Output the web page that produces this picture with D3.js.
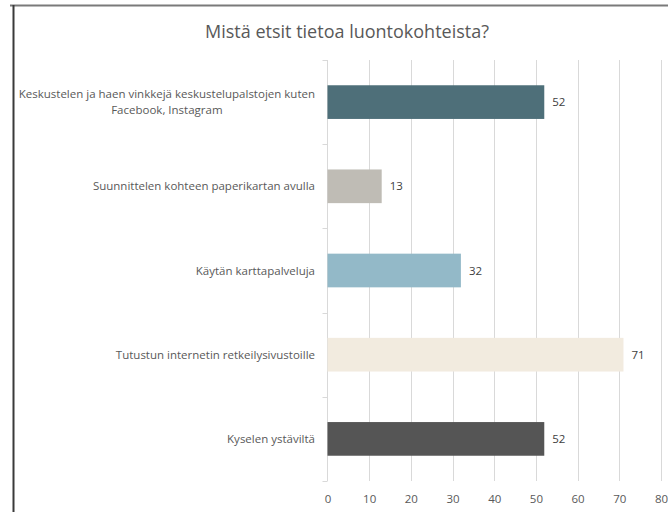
<!DOCTYPE html>
<html>
<head>
<meta charset="utf-8">
<script src="https://cdn.jsdelivr.net/npm/d3@7"></script>
<style>
  html, body { margin: 0; padding: 0; background: #fff; }
  svg { display: block; }
  text { font-family: "Open Sans", "Liberation Sans", sans-serif; }
</style>
</head>
<body>
<svg id="chart" width="668" height="512"></svg>
<script>
const title = "Mistä etsit tietoa luontokohteista?";
const categories = [
  ["Keskustelen ja haen vinkkejä keskustelupalstojen kuten", "Facebook, Instagram"],
  ["Suunnittelen kohteen paperikartan avulla"],
  ["Käytän karttapalveluja"],
  ["Tutustun internetin retkeilysivustoille"],
  ["Kyselen ystäviltä"]
];
const values = [52, 13, 32, 71, 52];
const colors = ["#4e6f79", "#bfbcb5", "#93b9c8", "#f2ebdf", "#555555"];
const xTicks = [0, 10, 20, 30, 40, 50, 60, 70, 80];

const svg = d3.select("#chart");
const W = 668, H = 512;
const plot = { left: 327.5, right: 661, top: 60, bottom: 481 };

// frame
svg.append("line").attr("x1", 10).attr("x2", W).attr("y1", 5.5).attr("y2", 5.5)
  .attr("stroke", "#7a7a7a").attr("stroke-width", 2);
svg.append("line").attr("x1", 13.5).attr("x2", 13.5).attr("y1", 5).attr("y2", H)
  .attr("stroke", "#3a3a3a").attr("stroke-width", 2);

// title
svg.append("text").attr("x", 347).attr("y", 38).attr("text-anchor", "middle")
  .attr("font-size", 18).attr("fill", "#595959").text(title);

const x = d3.scaleLinear().domain([0, 80]).range([plot.left, plot.right]);
const idx = d3.range(categories.length);
const y = d3.scaleBand().domain(idx).range([plot.top, plot.bottom])
  .paddingInner(0.6).paddingOuter(0.3);

// gridlines
svg.append("g").selectAll("line").data(xTicks.filter(d => d > 0)).join("line")
  .attr("x1", d => Math.round(x(d)) + 0.5).attr("x2", d => Math.round(x(d)) + 0.5)
  .attr("y1", plot.top).attr("y2", plot.bottom)
  .attr("stroke", "#d9d9d9").attr("stroke-width", 1);

// x axis labels
const xAxis = d3.axisBottom(x).tickValues(xTicks).tickSize(0).tickPadding(0);
const gx = svg.append("g").attr("transform", `translate(0,${plot.bottom})`).call(xAxis);
gx.select(".domain").remove();
gx.selectAll("text").attr("font-size", 11.5).attr("fill", "#595959")
  .attr("dy", null).attr("y", 22).style("font-family", "'Open Sans', sans-serif");

// y axis line and ticks at band boundaries
const boundaries = idx.map(i => y(i) - y.step() * y.paddingInner() / 2).concat([plot.bottom]);
svg.append("line").attr("x1", plot.left).attr("x2", plot.left)
  .attr("y1", plot.top).attr("y2", plot.bottom).attr("stroke", "#d9d9d9");
svg.append("g").selectAll("line").data(boundaries).join("line")
  .attr("x1", plot.left - 5).attr("x2", plot.left)
  .attr("y1", d => Math.round(d) + 0.5).attr("y2", d => Math.round(d) + 0.5)
  .attr("stroke", "#d9d9d9");

// bars
svg.append("g").selectAll("rect").data(idx).join("rect")
  .attr("x", x(0)).attr("y", i => y(i))
  .attr("width", i => x(values[i]) - x(0)).attr("height", y.bandwidth())
  .attr("fill", i => colors[i]);

// value labels
svg.append("g").selectAll("text").data(idx).join("text")
  .attr("x", i => x(values[i]) + 8).attr("y", i => y(i) + y.bandwidth() / 2)
  .attr("dy", "0.35em").attr("font-size", 11.5).attr("fill", "#404040")
  .text(i => values[i]);

// category labels
const labelRight = 315;
const lineH = 16;
idx.forEach(i => {
  const lines = categories[i];
  const g = svg.append("g");
  const cy = y(i) + y.bandwidth() / 2;
  const t = g.append("text").attr("font-size", 11.5).attr("fill", "#595959");
  lines.forEach((ln, k) => {
    t.append("tspan").attr("y", cy + (k - (lines.length - 1) / 2) * lineH)
      .attr("dy", "0.35em").text(ln);
  });
  // measure widest line, center lines within that width, right aligned at labelRight
  let maxW = 0;
  t.selectAll("tspan").each(function() { maxW = Math.max(maxW, this.getComputedTextLength()); });
  const cx = labelRight - maxW / 2;
  t.attr("text-anchor", "middle").selectAll("tspan").attr("x", cx);
});
</script>
</body>
</html>
